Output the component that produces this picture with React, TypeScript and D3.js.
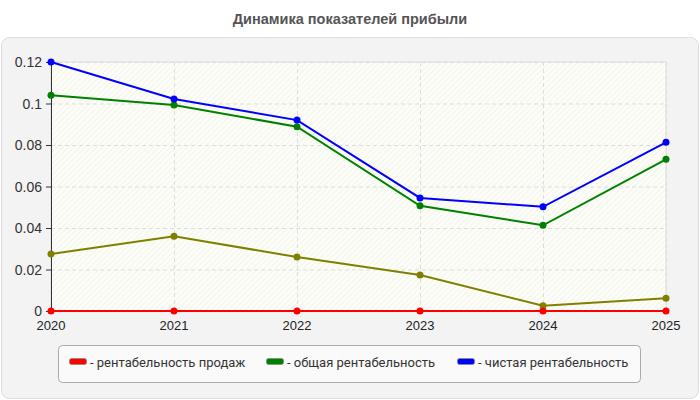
import * as d3 from "d3";
import { useEffect, useRef } from "react";

const years = ["2020", "2021", "2022", "2023", "2024", "2025"];
const salesMargin = [0, 0, 0, 0, 0, 0];
const totalMargin = [0.104, 0.0993, 0.0888, 0.0507, 0.0413, 0.0731];
const netMargin = [0.12, 0.1022, 0.092, 0.0545, 0.0502, 0.0813];
const extraSeries = [0.0275, 0.036, 0.026, 0.0173, 0.0025, 0.0062];
const yTicks = [0, 0.02, 0.04, 0.06, 0.08, 0.1, 0.12];

const seriesNames = [
  "рентабельность продаж",
  "общая рентабельность",
  "чистая рентабельность",
];

const width = 700;
const height = 400;

const Chart = () => {
  const ref = useRef<SVGSVGElement | null>(null);

  useEffect(() => {
    if (!ref.current) return;
    document.body.style.margin = "0";

    const series = [
      { name: "", values: extraSeries, color: "#808000" },
      { name: seriesNames[1], values: totalMargin, color: "#008000" },
      { name: seriesNames[2], values: netMargin, color: "#0000ff" },
      { name: seriesNames[0], values: salesMargin, color: "#ff0000" },
    ];
    const legendOrder = [series[3], series[1], series[2]];

    const left = 51;
    const right = 666;
    const top = 62;
    const bottom = 311;

    const x = d3.scalePoint<string>().domain(years).range([left, right]);
    const y = d3.scaleLinear().domain([0, 0.12]).range([bottom, top]);

    const svg = d3.select(ref.current);
    svg.selectAll("*").remove();
    svg.attr("width", width).attr("height", height).attr("viewBox", `0 0 ${width} ${height}`);

    const defs = svg.append("defs");
    const pattern = defs
      .append("pattern")
      .attr("id", "hatch")
      .attr("patternUnits", "userSpaceOnUse")
      .attr("width", 4)
      .attr("height", 4)
      .attr("patternTransform", "rotate(45)");
    pattern.append("rect").attr("width", 4).attr("height", 4).attr("fill", "#fcfdf6");
    pattern
      .append("line")
      .attr("x1", 0)
      .attr("y1", 0)
      .attr("x2", 0)
      .attr("y2", 4)
      .attr("stroke", "#efefea")
      .attr("stroke-width", 1.2);

    svg.append("rect").attr("width", width).attr("height", height).attr("fill", "#ffffff");

    // title
    svg
      .append("text")
      .attr("x", width / 2)
      .attr("y", 24)
      .attr("text-anchor", "middle")
      .attr("font-family", "'Liberation Sans', Arial, sans-serif")
      .attr("font-weight", "bold")
      .attr("font-size", 14.5)
      .attr("fill", "#555555")
      .text("Динамика показателей прибыли");

    // panel
    svg
      .append("rect")
      .attr("x", 1.5)
      .attr("y", 37.5)
      .attr("width", 697)
      .attr("height", 361)
      .attr("rx", 8)
      .attr("fill", "#f3f3f3")
      .attr("stroke", "#dddddd");

    // plot area
    svg
      .append("rect")
      .attr("x", left)
      .attr("y", top)
      .attr("width", right - left)
      .attr("height", bottom - top)
      .attr("fill", "url(#hatch)")
      .attr("stroke", "#dddddd");

    const grid = svg.append("g").attr("stroke", "#dddddd").attr("stroke-dasharray", "4,3");
    grid
      .selectAll("line.h")
      .data(yTicks.slice(1))
      .join("line")
      .attr("class", "h")
      .attr("x1", left)
      .attr("x2", right)
      .attr("y1", (d) => y(d) + 0.5)
      .attr("y2", (d) => y(d) + 0.5);
    grid
      .selectAll("line.v")
      .data(years.slice(1))
      .join("line")
      .attr("class", "v")
      .attr("x1", (d) => x(d)! + 0.5)
      .attr("x2", (d) => x(d)! + 0.5)
      .attr("y1", top)
      .attr("y2", bottom);

    // y axis
    svg
      .append("line")
      .attr("x1", left + 0.5)
      .attr("x2", left + 0.5)
      .attr("y1", top)
      .attr("y2", bottom)
      .attr("stroke", "#333333");
    const yAxis = svg
      .append("g")
      .attr("font-family", "'Liberation Sans', Arial, sans-serif")
      .attr("font-size", 14)
      .attr("fill", "#333333");
    yAxis
      .selectAll("line")
      .data(yTicks)
      .join("line")
      .attr("x1", left - 5)
      .attr("x2", left)
      .attr("y1", (d) => y(d) + 0.5)
      .attr("y2", (d) => y(d) + 0.5)
      .attr("stroke", "#333333");
    yAxis
      .selectAll("text")
      .data(yTicks)
      .join("text")
      .attr("x", left - 9)
      .attr("y", (d) => y(d) + 5)
      .attr("text-anchor", "end")
      .text((d) => String(+d.toFixed(2)));

    // x axis labels
    svg
      .append("g")
      .attr("font-family", "'Liberation Sans', Arial, sans-serif")
      .attr("font-size", 13)
      .attr("fill", "#222222")
      .selectAll("text")
      .data(years)
      .join("text")
      .attr("x", (d) => x(d)!)
      .attr("y", 330)
      .attr("text-anchor", "middle")
      .text((d) => d);

    const line = d3
      .line<number>()
      .x((_, i) => x(years[i])!)
      .y((d) => y(d));

    series.forEach((s) => {
      const g = svg.append("g");
      g.append("path")
        .attr("d", line(s.values))
        .attr("fill", "none")
        .attr("stroke", s.color)
        .attr("stroke-width", 2);
      g.selectAll("circle")
        .data(s.values)
        .join("circle")
        .attr("cx", (_, i) => x(years[i])!)
        .attr("cy", (d) => y(d))
        .attr("r", 3.5)
        .attr("fill", s.color);
    });

    // legend
    const legend = svg.append("g");
    legend
      .append("rect")
      .attr("x", 58.5)
      .attr("y", 345.5)
      .attr("width", 582)
      .attr("height", 37)
      .attr("rx", 4)
      .attr("fill", "#fafafa")
      .attr("stroke", "#aaaaaa");
    const legendX = [69, 266, 457];
    legendOrder.forEach((s, i) => {
      legend
        .append("rect")
        .attr("x", legendX[i] + 0.5)
        .attr("y", 358.5)
        .attr("width", 17)
        .attr("height", 6)
        .attr("rx", 2)
        .attr("fill", s.color)
        .attr("stroke", "#888888")
        .attr("stroke-width", 0.8);
      legend
        .append("text")
        .attr("x", legendX[i] + 21)
        .attr("y", 367)
        .attr("font-family", "Roboto, 'Liberation Sans', sans-serif")
        .attr("font-size", 13)
        .attr("fill", "#333333")
        .text(`- ${s.name}`);
    });
  }, []);

  return <svg ref={ref} style={{ display: "block" }} />;
};

export default function App() {
  return <Chart />;
}
